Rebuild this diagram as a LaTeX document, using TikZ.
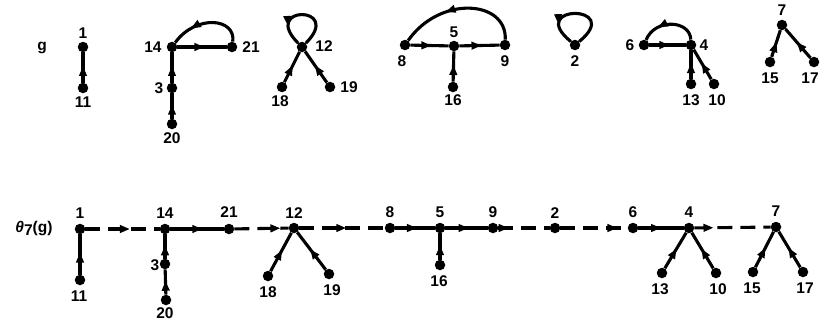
\documentclass[tikz,border=0pt]{standalone}
\usepackage{fontspec}
\setmainfont{Liberation Sans}
\usetikzlibrary{arrows.meta,decorations.markings}
\begin{document}
\begin{tikzpicture}[x=1pt,y=-1pt,
 dot/.style={circle,fill=black,inner sep=0pt,minimum size=10.5pt},
 edge/.style={line width=3.1pt},
 dedge/.style={line width=3.1pt,dash pattern=on 15pt off 8pt},
 arr/.style={postaction={decorate},decoration={markings,mark=at position #1 with {\arrow{Triangle[length=10pt,width=7.5pt]}}}},
 arr/.default=0.55,
 lab/.style={font=\fontsize{15.5}{18}\selectfont\bfseries, inner sep=1pt}
]
\useasboundingbox (0,0) rectangle (821,322);
% ---------- top row: g ----------
\node[lab] (tg) at (42,48) {g};
\foreach \n/\x/\y in {1/83/47,11/83/88,14/172/47,21/232/47,3/172/88,20/172/124,
  12/302/47,18/282/87,19/330/87,8/405/45,5/454/46,9/505/45,16/453/87,2/575/45,
  6/644/45,4/691/45,13/691/84,10/714/84,7/782/25,15/770/62,17/814/62}
  {\node[dot] (t\n) at (\x,\y) {};}
\foreach \t/\x/\y in {1/83/33,11/83/102,14/153/47,21/251/47,3/159/88,20/172/138,
  12/324/46,18/280/101,19/349/87,5/454/32,8/402/61,9/505/61,16/453/100,2/575/61,
  6/630/45,4/704/45,13/691/100,10/717/100,7/782/10,15/770/78,17/810/78}
  {\node[lab] (lt\t) at (\x,\y) {\t};}
\draw[edge,arr] (t11) -- (t1);
\draw[edge,arr] (t20) -- (t3);
\draw[edge,arr] (t3) -- (t14);
\draw[edge,arr] (t14) -- (t21);
\draw[edge,arr=0.72] (t21) .. controls (236,18) and (196,14) .. (t14);
\draw[edge,arr=0.75] (t12) .. controls (344,5) and (260,5) .. (t12);
\draw[edge,arr] (t18) -- (t12);
\draw[edge,arr] (t19) -- (t12);
\draw[edge,arr] (t8) -- (t5);
\draw[edge,arr] (t5) -- (t9);
\draw[edge,arr] (t16) -- (t5);
\draw[edge,arr=0.62] (t9) .. controls (507,0) and (440,-5) .. (t8);
\draw[edge,arr=0.75] (t2) .. controls (625,4) and (525,4) .. (t2);
\draw[edge,arr] (t6) -- (t4);
\draw[edge,arr=0.7] (t4) .. controls (690,20) and (655,18) .. (t6);
\draw[edge,arr] (t13) -- (t4);
\draw[edge,arr] (t10) -- (t4);
\draw[edge,arr] (t15) -- (t7);
\draw[edge,arr] (t17) -- (t7);
% ---------- bottom row: theta_7(g) ----------
\node[lab] (bth) at (34,229) {\textit{θ}\raisebox{-3pt}{7}(g)};
\foreach \n/\x/\y in {1/80/229,11/80/280,14/165/229,3/165/264,20/166/300,21/229/229,
  12/294/228,18/268/276,19/329/274,8/390/228,5/440/228,9/493/228,16/440/265,
  2/555/228,6/633/228,4/689/228,13/662/273,10/716/273,7/776/227,15/753/272,17/803/272}
  {\node[dot] (b\n) at (\x,\y) {};}
\foreach \t/\x/\y in {1/80/213,11/79/296,14/165/213,3/155/265,20/165/313,21/229/212,
  12/294/213,18/268/292,19/332/290,8/390/212,5/440/212,9/493/212,16/439/281,
  2/555/213,6/633/212,4/689/212,13/660/289,10/718/289,7/776/211,15/752/288,17/805/288}
  {\node[lab] (lb\t) at (\x,\y) {\t};}
\draw[edge,arr] (b11) -- (b1);
\draw[edge,arr] (b20) -- (b3);
\draw[edge,arr] (b3) -- (b14);
\draw[dedge,arr=0.6] (b1) -- (b14);
\draw[edge,arr=0.6] (b14) -- (b21);
\draw[dedge,arr=0.85] (b21) -- (b12);
\draw[edge,arr] (b18) -- (b12);
\draw[edge,arr] (b19) -- (b12);
\draw[dedge,arr=0.55] (b12) -- (b8);
\draw[edge,arr] (b8) -- (b5);
\draw[edge,arr] (b5) -- (b9);
\draw[edge,arr] (b16) -- (b5);
\draw[dedge,arr=0.2] (b9) -- (b2);
\draw[dedge,arr=0.85] (b2) -- (b6);
\draw[edge,arr=0.5] (b6) -- (b4);
\draw[edge,arr] (b13) -- (b4);
\draw[edge,arr] (b10) -- (b4);
\draw[dedge,arr=0.25] (b4) -- (b7);
\draw[edge,arr] (b15) -- (b7);
\draw[edge,arr] (b17) -- (b7);
\end{tikzpicture}
\end{document}
